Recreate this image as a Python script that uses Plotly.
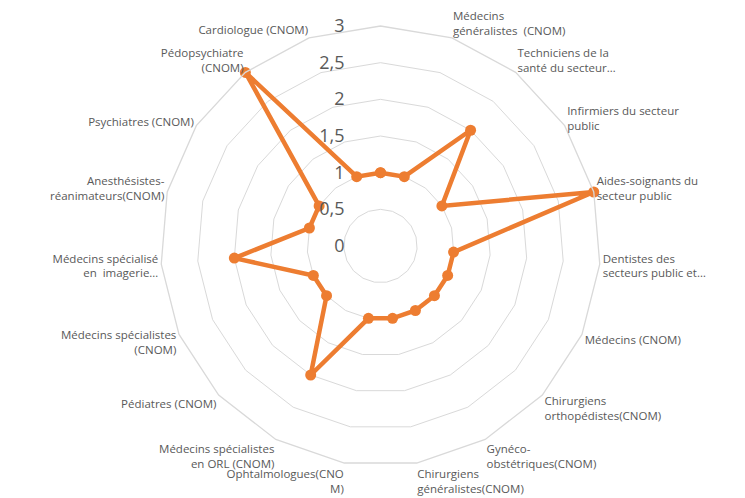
"""Radar chart: staffing indicators by health profession (CNOM)."""

import plotly.graph_objects as go

CATEGORIES = [
    " ",
    "Médecins<br>généralistes  (CNOM)",
    "Techniciens de la<br>santé du secteur…",
    "Infirmiers du secteur<br>public",
    "Aides-soignants du<br>secteur public",
    "Dentistes des<br>secteurs public et…",
    "Médecins (CNOM)",
    "Chirurgiens<br>orthopédistes(CNOM)",
    "Gynéco-<br>obstétriques(CNOM)",
    "Chirurgiens<br>généralistes(CNOM)",
    "Ophtalmologues(CNO<br>M)",
    "Médecins spécialistes<br>en ORL (CNOM)",
    "Pédiatres (CNOM)",
    "Médecins spécialistes<br>(CNOM)",
    "Médecins spécialisé<br>en  imagerie…",
    "Anesthésistes-<br>réanimateurs(CNOM)",
    "Psychiatres (CNOM)",
    "Pédopsychiatre<br>(CNOM)",
    "Cardiologue (CNOM)",
]
VALUES = [1, 1, 2, 1, 3, 1, 1, 1, 1, 1, 1, 2, 1, 1, 2, 1, 1, 3, 1]

RADIAL_TICKS = [0, 0.5, 1, 1.5, 2, 2.5, 3]
RADIAL_TEXT = ["0", "0,5", "1", "1,5", "2", "2,5", "3"]

ORANGE = "#ED7D31"
GRID = "#d9d9d9"
TEXT = "#595959"

# pad the radial labels so they sit left of the vertical axis, as in Excel
pad = "\u00a0" * 7
radial_labels = [t + pad for t in RADIAL_TEXT]

fig = go.Figure()
fig.add_trace(
    go.Scatterpolar(
        r=VALUES + VALUES[:1],
        theta=CATEGORIES + CATEGORIES[:1],
        mode="lines+markers",
        line={"color": ORANGE, "width": 4.5},
        marker={"color": ORANGE, "size": 11},
        showlegend=False,
    )
)

fig.update_layout(
    width=745,
    height=498,
    margin={"l": 0, "r": 0, "t": 18, "b": 40},
    paper_bgcolor="white",
    font={"family": "Open Sans, sans-serif", "color": TEXT, "size": 11.5},
    polar={
        "bgcolor": "white",
        "gridshape": "linear",
        "domain": {"x": [0, 1], "y": [0, 1]},
        "radialaxis": {
            "range": [0, 3],
            "tickvals": RADIAL_TICKS,
            "ticktext": radial_labels,
            "angle": 90,
            "side": "counterclockwise",
            "tickangle": 90,
            "showline": False,
            "ticks": "",
            "gridcolor": GRID,
            "gridwidth": 1.3,
            "tickfont": {"size": 18, "color": TEXT},
        },
        "angularaxis": {
            "direction": "clockwise",
            "rotation": 90,
            "showgrid": False,
            "showline": True,
            "linecolor": GRID,
            "linewidth": 1.3,
            "ticks": "",
            "tickfont": {"size": 11.5, "color": TEXT},
        },
    },
)

fig.write_html("out.html")
